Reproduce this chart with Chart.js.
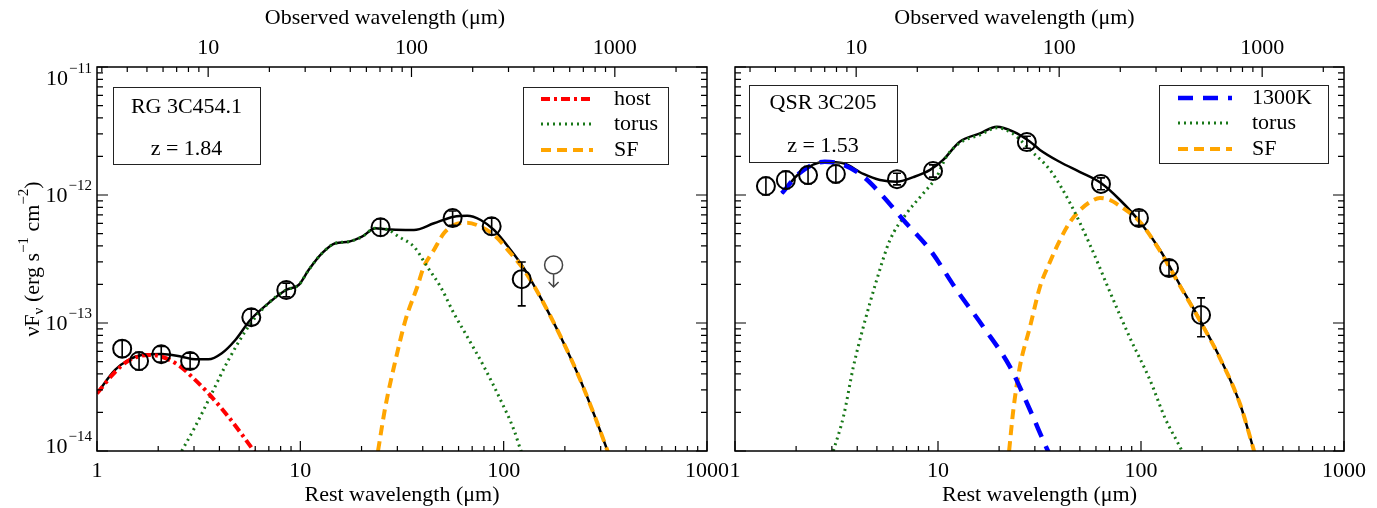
<!DOCTYPE html>
<html>
<head>
<meta charset="utf-8">
<script src="https://cdn.jsdelivr.net/npm/chart.js@4.4.1/dist/chart.umd.min.js"></script>
<style>
  body { margin: 0; background: #fff; }
  #wrap { position: relative; width: 1377px; height: 508px; }
  canvas { position: absolute; top: 0; }
</style>
</head>
<body>
<div id="wrap">
  <canvas id="left" width="740" height="508" style="left:0px"></canvas>
  <canvas id="right" width="677" height="508" style="left:700px"></canvas>
</div>
<script>
const SERIF = '"Liberation Serif", "Times New Roman", Times, serif'
const FS = 22

// axis ticks
const restDecades = [1, 10, 100, 1000]
const restLabels = ['1', '10', '100', '1000']
const obsLabels = ['10', '100', '1000']
const fluxDecades = [1e-14, 1e-13, 1e-12, 1e-11]
const fluxExponents = ['\u221214', '\u221213', '\u221212', '\u221211']

// ---- RG 3C454.1 (left) ----
const rgZ = 1.84
const rgPhotLam = [1.33, 1.61, 2.07, 2.87, 5.74, 8.53, 24.8, 56.1, 87.3, 122.7]
const rgPhotFlux = [6.3e-14, 5.05e-14, 5.7e-14, 5.05e-14, 1.11e-13, 1.81e-13, 5.6e-13, 6.6e-13, 5.7e-13, 2.2e-13]
const rgErrLo = [5.4e-14, 4.3e-14, 4.95e-14, 4.4e-14, 9.6e-14, 1.6e-13, 4.8e-13, 5.8e-13, 4.9e-13, 1.36e-13]
const rgErrHi = [7.3e-14, 5.9e-14, 6.55e-14, 5.8e-14, 1.28e-13, 2.05e-13, 6.5e-13, 7.5e-13, 6.6e-13, 3.0e-13]
const rgLimLam = [176]
const rgLimFlux = [2.84e-13]

const rgTotalLam = [1, 1.227, 1.426, 1.66, 2.08, 2.61, 3.04, 3.53, 4.11, 4.79, 5.67, 6.98, 8.5, 9.81, 10.98, 12.79, 14.87, 17.3, 20.1, 23.4, 26.2, 32.9, 36.2, 45.4, 56.9, 66.2, 77.1, 89.6, 108.2, 125.9, 152.2, 190.9, 239.4, 324.3, 340]
const rgTotalFlux = [2.82e-14, 4.3e-14, 5.14e-14, 5.62e-14, 5.73e-14, 5.45e-14, 5.2e-14, 5.2e-14, 5.8e-14, 7.36e-14, 1.055e-13, 1.43e-13, 1.81e-13, 1.98e-13, 2.59e-13, 3.51e-13, 4.2e-13, 4.32e-13, 4.72e-13, 5.5e-13, 5.4e-13, 5.33e-13, 5.33e-13, 6.01e-13, 6.77e-13, 6.89e-13, 6.38e-13, 5.33e-13, 3.72e-13, 2.67e-13, 1.57e-13, 7.78e-14, 3.52e-14, 1.0e-14, 8.0e-15]

const rgHostLam = [1, 1.227, 1.42, 1.79, 2.08, 2.51, 2.93, 3.53, 4.43, 5.91, 6.1]
const rgHostFlux = [2.82e-14, 4.14e-14, 5.05e-14, 5.62e-14, 5.45e-14, 4.7e-14, 3.8e-14, 2.82e-14, 1.85e-14, 1.0e-14, 9.3e-15]

const rgTorusLam = [2.61, 3.04, 3.67, 4.43, 5.67, 6.98, 8.5, 9.81, 10.98, 12.79, 14.87, 17.3, 20.1, 23.4, 27.2, 30.5, 36.2, 42.1, 48.9, 56.9, 66.2, 80.0, 96.6, 112.4, 121.3, 124.5]
const rgTorusFlux = [1.0e-14, 1.55e-14, 2.82e-14, 5.14e-14, 9.8e-14, 1.43e-13, 1.81e-13, 1.98e-13, 2.59e-13, 3.51e-13, 4.2e-13, 4.32e-13, 4.72e-13, 5.5e-13, 5.33e-13, 4.72e-13, 3.95e-13, 2.75e-13, 1.92e-13, 1.19e-13, 7.82e-14, 4.56e-14, 2.5e-14, 1.46e-14, 1.02e-14, 9.3e-15]

const rgSfLam = [24.1, 26.2, 29.4, 32.9, 37.6, 40.5, 45.4, 50.8, 56.9, 66.2, 77.1, 89.6, 108.2, 125.9, 152.2, 190.9, 239.4, 324.3, 340]
const rgSfFlux = [1.0e-14, 2.22e-14, 5.14e-14, 1.055e-13, 1.92e-13, 2.75e-13, 3.72e-13, 5.02e-13, 5.83e-13, 6.08e-13, 5.65e-13, 4.87e-13, 3.51e-13, 2.6e-13, 1.57e-13, 7.78e-14, 3.52e-14, 1.0e-14, 8.0e-15]

// ---- QSR 3C205 (right) ----
const qsZ = 1.53
const qsPhotLam = [1.42, 1.78, 2.29, 3.14, 6.28, 9.45, 27.4, 63.5, 97.7, 137.4, 197.6]
const qsPhotFlux = [1.175e-12, 1.31e-12, 1.43e-12, 1.46e-12, 1.33e-12, 1.54e-12, 2.59e-12, 1.22e-12, 6.61e-13, 2.69e-13, 1.155e-13]
const qsErrLo = [1.0e-12, 1.12e-12, 1.22e-12, 1.25e-12, 1.2e-12, 1.38e-12, 2.32e-12, 1.1e-12, 5.8e-13, 2.35e-13, 7.8e-14]
const qsErrHi = [1.37e-12, 1.53e-12, 1.67e-12, 1.71e-12, 1.48e-12, 1.72e-12, 2.88e-12, 1.36e-12, 7.5e-13, 3.08e-13, 1.57e-13]

const qsTotalLam = [1.7, 2.09, 2.77, 3.42, 4.29, 5.18, 6.26, 7.56, 9.14, 10.6, 12.8, 16.1, 19.5, 23.5, 28.4, 31.8, 39.9, 50.1, 63.5, 78.8, 98.9, 124.1, 155.6, 195.3, 245, 307.5, 360.5, 377]
const qsTotalFlux = [1.03e-12, 1.49e-12, 1.82e-12, 1.77e-12, 1.46e-12, 1.31e-12, 1.27e-12, 1.38e-12, 1.57e-12, 1.88e-12, 2.61e-12, 3.03e-12, 3.42e-12, 3.13e-12, 2.61e-12, 2.25e-12, 1.81e-12, 1.51e-12, 1.24e-12, 9.14e-13, 6.15e-13, 3.72e-13, 1.98e-13, 1.055e-13, 5.33e-14, 2.33e-14, 1.0e-14, 7.8e-15]

const qsHotLam = [1.7, 2.09, 2.77, 3.42, 4.29, 5.38, 6.75, 9.14, 12.36, 16.7, 22.6, 28.4, 34.8, 35.6]
const qsHotFlux = [1.03e-12, 1.49e-12, 1.82e-12, 1.72e-12, 1.39e-12, 9.7e-13, 6.38e-13, 3.72e-13, 1.81e-13, 9.35e-14, 4.56e-14, 2.09e-14, 1.0e-14, 9.3e-15]

const qsTorusLam = [3.05, 3.42, 3.83, 4.29, 4.99, 5.8, 7.01, 8.46, 9.86, 11.0, 12.8, 16.1, 19.5, 23.5, 28.4, 35.6, 44.7, 56.1, 70.3, 88.3, 110.7, 131.3, 159.2, 164]
const qsTorusFlux = [1.0e-14, 1.85e-14, 4.56e-14, 9.35e-14, 2.17e-13, 4.45e-13, 7.19e-13, 1.03e-12, 1.39e-12, 1.99e-12, 2.55e-12, 2.95e-12, 3.35e-12, 3.0e-12, 2.25e-12, 1.57e-12, 8.66e-13, 4.07e-13, 1.75e-13, 7.63e-14, 3.59e-14, 1.81e-14, 1.0e-14, 9.0e-15]

const qsSfLam = [22.4, 23.5, 25.3, 28.4, 31.8, 35.6, 39.9, 44.7, 50.1, 56.1, 62.8, 70.3, 78.8, 88.3, 98.9, 124.1, 155.6, 195.3, 245, 307.5, 360.5, 377]
const qsSfFlux = [1.0e-14, 2.09e-14, 4.56e-14, 9.35e-14, 1.92e-13, 3.0e-13, 4.45e-13, 6.15e-13, 7.63e-13, 8.82e-13, 9.48e-13, 9.14e-13, 8.2e-13, 7.23e-13, 6.15e-13, 3.65e-13, 1.95e-13, 1.04e-13, 5.3e-14, 2.33e-14, 1.0e-14, 7.8e-15]

const TORUS_GREEN = '#177717'

const pts = (xs, ys) => xs.map((x, i) => ({ x: x, y: ys[i] }))

const curve = (label, xs, ys, color, width, dash, order) => ({
  label: label,
  data: pts(xs, ys),
  borderColor: color,
  borderWidth: width,
  borderDash: dash,
  borderCapStyle: 'butt',
  pointRadius: 0,
  fill: false,
  cubicInterpolationMode: 'monotone',
  order: order
})

const photometry = (xs, ys, lo, hi) => ({
  label: 'data',
  data: pts(xs, ys),
  showLine: false,
  pointRadius: 9,
  pointBorderWidth: 2,
  pointBorderColor: '#000',
  pointBackgroundColor: 'rgba(0,0,0,0)',
  errLo: lo,
  errHi: hi,
  order: 0
})

// ticks with minors, in a range
const withMinors = (decades, lo, hi) => {
  const out = []
  decades.forEach(d => {
    for (let k = 1; k < 10; k++) {
      const v = d * k
      if (v >= lo * 0.999 && v <= hi * 1.001) out.push({ v: v, major: k === 1 })
    }
  })
  return out
}

const sedDecor = {
  id: 'sedDecor',
  afterDatasetsDraw(chart, args, o) {
    const { ctx, chartArea: a, scales } = chart
    const x = scales.x, x2 = scales.x2, y = scales.y
    ctx.save()

    // error bars
    chart.data.datasets.forEach(ds => {
      if (!ds.errLo) return
      ctx.strokeStyle = '#000'
      ctx.lineWidth = 1.6
      ctx.setLineDash([])
      ds.data.forEach((p, i) => {
        const px = x.getPixelForValue(p.x)
        const y1 = y.getPixelForValue(ds.errHi[i])
        const y2 = y.getPixelForValue(ds.errLo[i])
        ctx.beginPath()
        ctx.moveTo(px, y1); ctx.lineTo(px, y2)
        ctx.moveTo(px - 4, y1); ctx.lineTo(px + 4, y1)
        ctx.moveTo(px - 4, y2); ctx.lineTo(px + 4, y2)
        ctx.stroke()
      })
    })

    // upper limits
    if (o.limLam) {
      ctx.strokeStyle = '#444'
      ctx.lineWidth = 1.5
      o.limLam.forEach((l, i) => {
        const px = x.getPixelForValue(l)
        const py = y.getPixelForValue(o.limFlux[i])
        ctx.beginPath()
        ctx.arc(px, py, 9, 0, Math.PI * 2)
        ctx.moveTo(px, py + 9); ctx.lineTo(px, py + 22)
        ctx.moveTo(px - 5, py + 17); ctx.lineTo(px, py + 22); ctx.lineTo(px + 5, py + 17)
        ctx.stroke()
      })
    }

    // frame
    ctx.strokeStyle = '#000'
    ctx.lineWidth = 1.5
    ctx.strokeRect(a.left, a.top, a.right - a.left, a.bottom - a.top)

    // inward ticks
    ctx.lineWidth = 1.2
    ctx.beginPath()
    withMinors(restDecades, x.min, x.max).forEach(t => {
      const p = x.getPixelForValue(t.v), len = t.major ? 10 : 5
      ctx.moveTo(p, a.bottom); ctx.lineTo(p, a.bottom - len)
    })
    withMinors(restDecades, x2.min, x2.max).forEach(t => {
      const p = x2.getPixelForValue(t.v), len = t.major ? 10 : 5
      ctx.moveTo(p, a.top); ctx.lineTo(p, a.top + len)
    })
    withMinors(fluxDecades, y.min, y.max).forEach(t => {
      const p = y.getPixelForValue(t.v), len = t.major ? 11 : 6
      ctx.moveTo(a.left, p); ctx.lineTo(a.left + len, p)
      ctx.moveTo(a.right, p); ctx.lineTo(a.right - len, p)
    })
    ctx.stroke()

    ctx.fillStyle = '#000'
    // top title
    ctx.font = FS + 'px ' + SERIF
    ctx.textAlign = 'center'
    ctx.textBaseline = 'middle'
    ctx.fillText('Observed wavelength (\u03bcm)', (a.left + a.right) / 2 + o.topTitleShift, 18)

    // y tick labels and title
    if (o.yLabels) {
      fluxDecades.forEach((v, i) => {
        const p = y.getPixelForValue(v)
        const cy = Math.min(Math.max(p, a.top + 11), a.bottom - 5)
        ctx.textAlign = 'right'
        ctx.font = '15px ' + SERIF
        const ew = ctx.measureText(fluxExponents[i]).width
        ctx.fillText(fluxExponents[i], a.left - 5, cy - 9)
        ctx.font = FS + 'px ' + SERIF
        ctx.fillText('10', a.left - 6 - ew, cy + 1)
      })
      const segs = [
        { t: '\u03bdF', s: FS, dy: 0 },
        { t: '\u03bd', s: 15, dy: 6 },
        { t: ' (erg s', s: FS, dy: 0 },
        { t: '\u22121', s: 15, dy: -9 },
        { t: ' cm', s: FS, dy: 0 },
        { t: '\u22122', s: 15, dy: -9 },
        { t: ')', s: FS, dy: 0 }
      ]
      let total = 0
      segs.forEach(sg => { ctx.font = sg.s + 'px ' + SERIF; sg.w = ctx.measureText(sg.t).width; total += sg.w })
      ctx.translate(33, (a.top + a.bottom) / 2)
      ctx.rotate(-Math.PI / 2)
      ctx.textAlign = 'left'
      let cx = -total / 2
      segs.forEach(sg => {
        ctx.font = sg.s + 'px ' + SERIF
        ctx.fillText(sg.t, cx, sg.dy)
        cx += sg.w
      })
      ctx.setTransform(1, 0, 0, 1, 0, 0)
    }

    // name box
    const b = o.box
    ctx.strokeStyle = '#222'
    ctx.lineWidth = 1
    ctx.strokeRect(b.x0 + 0.5, b.y0 + 0.5, b.x1 - b.x0, b.y1 - b.y0)
    ctx.font = FS + 'px ' + SERIF
    ctx.textAlign = 'center'
    ctx.fillText(b.lines[0], (b.x0 + b.x1) / 2, b.ty[0])
    ctx.fillText(b.lines[1], (b.x0 + b.x1) / 2, b.ty[1])

    // legend
    const lg = o.legend
    ctx.strokeRect(lg.x0 + 0.5, lg.y0 + 0.5, lg.x1 - lg.x0, lg.y1 - lg.y0)
    lg.items.forEach((idx, r) => {
      const ds = chart.data.datasets[idx]
      const ry = lg.rows[r]
      ctx.save()
      ctx.strokeStyle = ds.borderColor
      ctx.lineWidth = ds.borderWidth
      ctx.setLineDash(ds.borderDash || [])
      ctx.beginPath()
      ctx.moveTo(lg.sx0, ry); ctx.lineTo(lg.sx1, ry)
      ctx.stroke()
      ctx.restore()
      ctx.textAlign = 'left'
      ctx.fillText(ds.label, lg.tx, ry)
    })
    ctx.restore()
  }
}

const makePanel = (canvasId, z, datasets, yWidth, decor) => {
  return new Chart(document.getElementById(canvasId), {
    type: 'line',
    data: { datasets: datasets },
    options: {
      responsive: false,
      animation: false,
      devicePixelRatio: 1,
      layout: { padding: { left: 0, right: 33, top: 0, bottom: 0 } },
      plugins: { legend: { display: false }, tooltip: { enabled: false }, sedDecor: decor },
      scales: {
        x: {
          type: 'logarithmic', position: 'bottom', min: 1, max: 1000,
          grid: { display: false }, border: { display: false },
          afterBuildTicks: s => { s.ticks = restDecades.map(v => ({ value: v })) },
          afterFit: s => { s.height = 57 },
          ticks: { autoSkip: false, maxRotation: 0, padding: -1, color: '#000', font: { family: SERIF, size: FS },
            callback: (v, i) => restLabels[i] },
          title: { display: true, text: 'Rest wavelength (\u03bcm)', color: '#000', font: { family: SERIF, size: FS }, padding: { top: 0, bottom: 0 } }
        },
        x2: {
          type: 'logarithmic', position: 'top', min: 1 + z, max: 1000 * (1 + z),
          grid: { display: false }, border: { display: false },
          afterBuildTicks: s => { s.ticks = obsLabels.map(v => ({ value: Number(v) })) },
          afterFit: s => { s.height = 67 },
          ticks: { autoSkip: false, maxRotation: 0, padding: -2, color: '#000', font: { family: SERIF, size: FS },
            callback: (v, i) => obsLabels[i] }
        },
        y: {
          type: 'logarithmic', position: 'left', min: 1e-14, max: 1e-11,
          grid: { display: false }, border: { display: false },
          ticks: { display: false },
          afterFit: s => { s.width = yWidth }
        }
      }
    },
    plugins: [sedDecor]
  })
}

makePanel('left', rgZ, [
  curve('host', rgHostLam, rgHostFlux, '#ff0000', 4, [9, 4, 3, 4], 1),
  curve('torus', rgTorusLam, rgTorusFlux, TORUS_GREEN, 3, [2, 4], 1),
  curve('SF', rgSfLam, rgSfFlux, '#ffa500', 4, [10, 6], 1),
  curve('total', rgTotalLam, rgTotalFlux, '#000', 2.5, [], 5),
  photometry(rgPhotLam, rgPhotFlux, rgErrLo, rgErrHi)
], 97, {
  yLabels: true,
  topTitleShift: -17,
  limLam: rgLimLam,
  limFlux: rgLimFlux,
  box: { x0: 113, y0: 87, x1: 260, y1: 164, lines: ['RG 3C454.1', 'z = 1.84'], ty: [107, 149] },
  legend: { x0: 523, y0: 87, x1: 668, y1: 164, items: [0, 1, 2], rows: [99, 124, 150], sx0: 541, sx1: 593, tx: 614 }
})

makePanel('right', qsZ, [
  curve('1300K', qsHotLam, qsHotFlux, '#0000ff', 4.5, [15, 10], 1),
  curve('torus', qsTorusLam, qsTorusFlux, TORUS_GREEN, 3, [2, 4], 1),
  curve('SF', qsSfLam, qsSfFlux, '#ffa500', 4, [10, 6], 1),
  curve('total', qsTotalLam, qsTotalFlux, '#000', 2.5, [], 5),
  photometry(qsPhotLam, qsPhotFlux, qsErrLo, qsErrHi)
], 35, {
  yLabels: false,
  topTitleShift: -25,
  box: { x0: 49, y0: 85, x1: 197, y1: 162, lines: ['QSR 3C205', 'z = 1.53'], ty: [103, 146] },
  legend: { x0: 459, y0: 85, x1: 628, y1: 163, items: [0, 1, 2], rows: [98, 123, 149], sx0: 478, sx1: 532, tx: 552 }
})
</script>
</body>
</html>
